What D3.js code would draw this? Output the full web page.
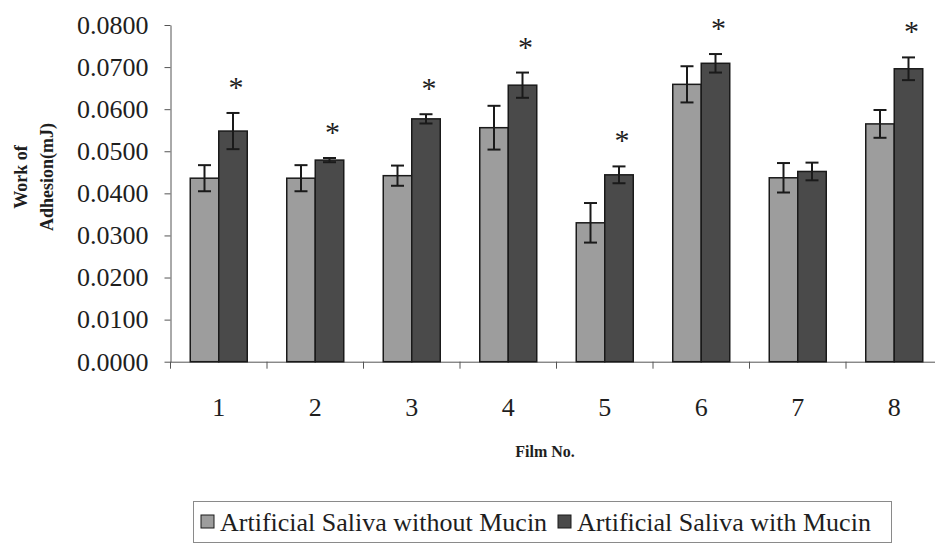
<!DOCTYPE html>
<html>
  <head>
    <style>
      body {
        margin: 0;
        background: #ffffff;
        font-family: "Liberation Serif", "Times New Roman", serif;
      }
      text { fill: #1e1e1e; }
    </style>
  </head>

<body>
  <div id="chart"></div>

  <script src="https://cdnjs.cloudflare.com/ajax/libs/d3/7.8.5/d3.min.js"></script>
  <script>

    var films = ["1", "2", "3", "4", "5", "6", "7", "8"];
    var seriesNames = ["Artificial Saliva without Mucin", "Artificial Saliva with Mucin"];
    var withoutMucin = [0.0436, 0.0436, 0.0442, 0.0556, 0.0330, 0.0659, 0.0437, 0.0565];
    var withMucin = [0.0548, 0.0479, 0.0577, 0.0657, 0.0444, 0.0709, 0.0452, 0.0696];
    var errWithout = [0.0031, 0.0031, 0.0024, 0.0052, 0.0047, 0.0043, 0.0035, 0.0033];
    var errWith = [0.0043, 0.0005, 0.0011, 0.0030, 0.0020, 0.0022, 0.0021, 0.0027];
    var significant = [true, true, true, true, true, true, false, true];
    var yTicks = [0, 0.01, 0.02, 0.03, 0.04, 0.05, 0.06, 0.07, 0.08];

    var margin = {top: 25, left: 170.5},
      width = 772,
      height = 336.7;

    var colors = ["#9d9d9d", "#4a4a4a"];

    var svg = d3.select("#chart")
      .append("svg")
      .attr("width", 935)
      .attr("height", 547);

    var g = svg.append("g")
      .attr("transform", "translate(" + margin.left + "," + margin.top + ")");

    var x = d3.scaleBand()
      .domain(films)
      .range([0, width]);

    var xInner = d3.scaleBand()
      .domain([0, 1])
      .range([x.bandwidth() / 2 - 28.5, x.bandwidth() / 2 + 28.5]);

    var y = d3.scaleLinear()
      .domain([0, 0.08])
      .range([height, 0]);

    // value axis
    var yAxis = g.append("g")
      .call(d3.axisLeft(y)
        .tickValues(yTicks)
        .tickFormat(d3.format(".4f"))
        .tickSize(6)
        .tickSizeOuter(0)
        .tickPadding(16));
    yAxis.selectAll("text")
      .style("font-family", "Liberation Serif")
      .style("font-size", "26px");
    yAxis.selectAll("line, path").attr("stroke", "#555");

    // category axis: labels at the centre, ticks between groups
    var xAxis = g.append("g")
      .attr("transform", "translate(0," + height + ")")
      .call(d3.axisBottom(x).tickSize(0).tickPadding(36));
    xAxis.select(".domain").attr("stroke", "#555");
    xAxis.selectAll("text")
      .style("font-family", "Liberation Serif")
      .style("font-size", "26px");

    g.append("g")
      .selectAll("line")
      .data(d3.range(films.length + 1))
      .enter()
      .append("line")
        .attr("x1", function (i) { return i * x.step(); })
        .attr("x2", function (i) { return i * x.step(); })
        .attr("y1", height)
        .attr("y2", height + 7)
        .attr("stroke", "#555");

    var rows = films.map(function (f, i) {
      return {
        film: f,
        vals: [
          {s: 0, v: withoutMucin[i], e: errWithout[i]},
          {s: 1, v: withMucin[i], e: errWith[i]}
        ],
        star: significant[i]
      };
    });

    var groups = g.append("g")
      .selectAll("g")
      .data(rows)
      .enter()
      .append("g")
        .attr("transform", function (d) { return "translate(" + x(d.film) + ",0)"; });

    groups.selectAll("rect")
      .data(function (d) { return d.vals; })
      .enter()
      .append("rect")
        .attr("x", function (d) { return xInner(d.s); })
        .attr("y", function (d) { return y(d.v); })
        .attr("width", xInner.bandwidth())
        .attr("height", function (d) { return height - y(d.v); })
        .attr("fill", function (d) { return colors[d.s]; })
        .attr("stroke", "#1a1a1a")
        .attr("stroke-width", 1.5);

    // error bars
    var err = groups.selectAll(".err")
      .data(function (d) { return d.vals; })
      .enter()
      .append("g")
        .attr("class", "err")
        .attr("stroke", "#1a1a1a")
        .attr("stroke-width", 2);
    err.append("line")
      .attr("x1", function (d) { return xInner(d.s) + xInner.bandwidth() / 2; })
      .attr("x2", function (d) { return xInner(d.s) + xInner.bandwidth() / 2; })
      .attr("y1", function (d) { return y(d.v + d.e); })
      .attr("y2", function (d) { return y(d.v - d.e); });
    err.selectAll(".cap")
      .data(function (d) { return [d.v + d.e, d.v - d.e].map(function (c) { return {s: d.s, c: c}; }); })
      .enter()
      .append("line")
        .attr("class", "cap")
        .attr("x1", function (d) { return xInner(d.s) + xInner.bandwidth() / 2 - 6.5; })
        .attr("x2", function (d) { return xInner(d.s) + xInner.bandwidth() / 2 + 6.5; })
        .attr("y1", function (d) { return y(d.c); })
        .attr("y2", function (d) { return y(d.c); });

    // significance marks above the mucin bars
    groups.filter(function (d) { return d.star; })
      .append("text")
        .attr("x", xInner(1) + xInner.bandwidth() / 2 + 3)
        .attr("y", function (d) { return y(d.vals[1].v + d.vals[1].e) - 16; })
        .style("text-anchor", "middle")
        .style("font-size", "30px")
        .text("*");

    svg.append("text")
      .attr("x", 545)
      .attr("y", 457)
      .style("text-anchor", "middle")
      .style("font-weight", "bold")
      .style("font-size", "16px")
      .text("Film No.");

    svg.append("text")
      .attr("transform", "translate(27,177) rotate(-90)")
      .style("text-anchor", "middle")
      .style("font-weight", "bold")
      .style("font-size", "18px")
      .text("Work of");

    svg.append("text")
      .attr("transform", "translate(53,177) rotate(-90)")
      .style("text-anchor", "middle")
      .style("font-weight", "bold")
      .style("font-size", "18px")
      .text("Adhesion(mJ)");

    // legend
    var legend = svg.append("g");
    legend.append("rect")
      .attr("x", 193.5)
      .attr("y", 501.5)
      .attr("width", 698)
      .attr("height", 41)
      .attr("fill", "none")
      .attr("stroke", "#8a8a8a");

    var legendX = [201, 558];
    seriesNames.forEach(function (name, i) {
      legend.append("rect")
        .attr("x", legendX[i])
        .attr("y", 515)
        .attr("width", 13)
        .attr("height", 13)
        .attr("fill", colors[i])
        .attr("stroke", "#1a1a1a");
      legend.append("text")
        .attr("x", legendX[i] + 19)
        .attr("y", 531)
        .style("font-size", "26px")
        .text(name);
    });

  </script>
</body>
</html>
